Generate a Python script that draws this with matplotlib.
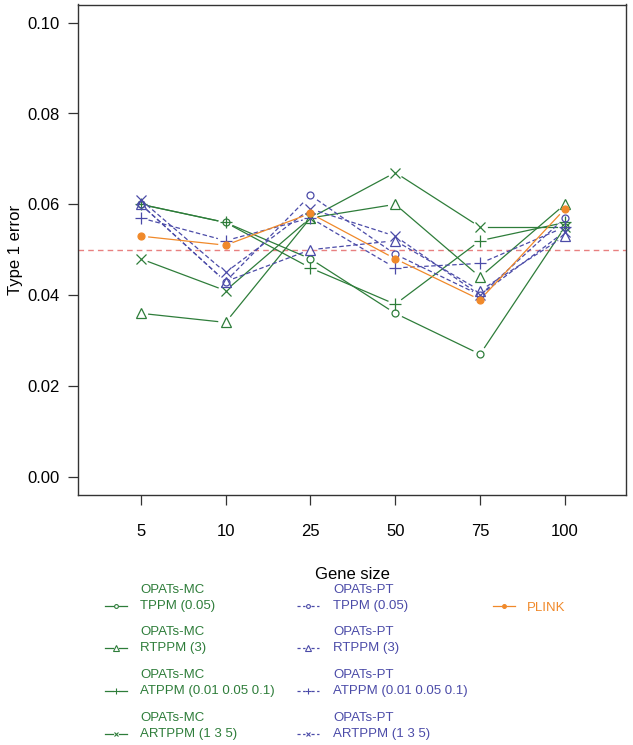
import matplotlib.pyplot as plt
import numpy as np

plt.rcParams['font.family'] = ['Liberation Sans', 'DejaVu Sans']

# type 1 error per gene size
gene_sizes = ["5", "10", "25", "50", "75", "100"]
mc_tppm = [0.060, 0.056, 0.048, 0.036, 0.027, 0.055]
mc_rtppm = [0.036, 0.034, 0.057, 0.060, 0.044, 0.060]
mc_atppm = [0.060, 0.056, 0.046, 0.038, 0.052, 0.056]
mc_artppm = [0.048, 0.041, 0.057, 0.067, 0.055, 0.055]
pt_tppm = [0.060, 0.043, 0.062, 0.049, 0.040, 0.057]
pt_rtppm = [0.060, 0.043, 0.050, 0.052, 0.041, 0.053]
pt_atppm = [0.057, 0.052, 0.057, 0.046, 0.047, 0.055]
pt_artppm = [0.061, 0.045, 0.059, 0.053, 0.040, 0.054]
plink = [0.053, 0.051, 0.058, 0.048, 0.039, 0.059]
nominal = 0.05

green = '#2E7D3A'
blue = '#4B4BA8'
orange = '#F0892A'

# (values, colour, marker, marker size, linestyle, filled, legend lines)
series = [
    (mc_tppm, green, 'o', 5, '-', False, ("OPATs-MC", "TPPM (0.05)")),
    (mc_rtppm, green, '^', 7.5, '-', False, ("OPATs-MC", "RTPPM (3)")),
    (mc_atppm, green, '+', 9, '-', False, ("OPATs-MC", "ATPPM (0.01 0.05 0.1)")),
    (mc_artppm, green, 'x', 6.5, '-', False, ("OPATs-MC", "ARTPPM (1 3 5)")),
    (pt_tppm, blue, 'o', 5, (0, (3.6, 2.0)), False, ("OPATs-PT", "TPPM (0.05)")),
    (pt_rtppm, blue, '^', 7.5, (0, (3.6, 2.0)), False, ("OPATs-PT", "RTPPM (3)")),
    (pt_atppm, blue, '+', 9, (0, (3.6, 2.0)), False, ("OPATs-PT", "ATPPM (0.01 0.05 0.1)")),
    (pt_artppm, blue, 'x', 6.5, (0, (3.6, 2.0)), False, ("OPATs-PT", "ARTPPM (1 3 5)")),
    (plink, orange, 'o', 5, '-', True, ("PLINK",)),
]

W, H = 633, 745
fig = plt.figure(figsize=(W / 100, H / 100), dpi=100)
ax = fig.add_axes([78 / W, (H - 495) / H, (626 - 78) / W, (495 - 4.5) / H])
ax.set_xlim(0.26, 6.72)
ax.set_ylim(-0.004, 0.104)

xs = np.arange(1, len(gene_sizes) + 1)

ax.axhline(nominal, color='#E88080', lw=1.0, ls=(0, (4, 3)), zorder=1)


def draw_type_b(ax, xs, ys, color, ls, marker, ms, filled, gap=8):
    # R-style type="b": line segments stop short of each point
    pts = ax.transData.transform(np.column_stack([xs, ys]))
    inv = ax.transData.inverted()
    for p0, p1 in zip(pts[:-1], pts[1:]):
        d = p1 - p0
        L = np.hypot(*d)
        if L <= 2 * gap:
            continue
        u = d / L
        seg = inv.transform([p0 + u * gap, p1 - u * gap])
        ax.plot(seg[:, 0], seg[:, 1], color=color, ls=ls, lw=0.9, zorder=2)
    ax.plot(xs, ys, ls='none', marker=marker, ms=ms, mec=color,
            mfc=color if filled else 'none', mew=0.9, zorder=3)


for vals, color, marker, ms, ls, filled, _ in series:
    draw_type_b(ax, xs, vals, color, ls, marker, ms, filled)

ax.set_xticks(xs)
ax.set_xticklabels(gene_sizes)
ax.set_yticks(np.arange(0, 0.101, 0.02))
ax.set_yticklabels([f"{v:.2f}" for v in np.arange(0, 0.101, 0.02)])
ax.tick_params(axis='x', length=7, width=0.9, pad=14, labelsize=12, color='#333333')
ax.tick_params(axis='y', length=7, width=0.9, pad=6, labelsize=12, color='#333333')
for sp in ax.spines.values():
    sp.set_linewidth(1.0)
    sp.set_color('#333333')
ax.set_xlabel("Gene size", fontsize=12, labelpad=20)
ax.set_ylabel("Type 1 error", fontsize=12, labelpad=3)

# legend drawn by hand in pixel coordinates
lg = fig.add_axes([0, 0, 1, 1], zorder=-1)
lg.set_xlim(0, W)
lg.set_ylim(H, 0)
lg.axis('off')

col_line = [105, 297, 493]
col_text = [140, 333, 527]
row_y = [606, 648, 691, 734]

for i, (vals, color, marker, ms, ls, filled, labels) in enumerate(series):
    col = i // 4
    row = i % 4
    if col == 2:
        row = 0
    y = row_y[row]
    x0 = col_line[col]
    xm = x0 + 11
    leg_ls = ls if ls == '-' else (0, (2.5, 2))
    lg.plot([x0, xm - 3], [y, y], color=color, ls=leg_ls, lw=0.9)
    lg.plot([xm + 3, x0 + 22], [y, y], color=color, ls=leg_ls, lw=0.9)
    lg.plot([xm], [y], ls='none', marker=marker, ms=ms * 0.55, mec=color,
            mfc=color if filled else 'none', mew=0.8)
    if len(labels) == 2:
        lg.text(col_text[col], y - 16, labels[0], color=color, fontsize=9.5, va='center')
        lg.text(col_text[col], y, labels[1], color=color, fontsize=9.5, va='center')
    else:
        lg.text(col_text[col], y + 2, labels[0], color=color, fontsize=9.5, va='center')

fig.savefig("out.png", dpi=100)
